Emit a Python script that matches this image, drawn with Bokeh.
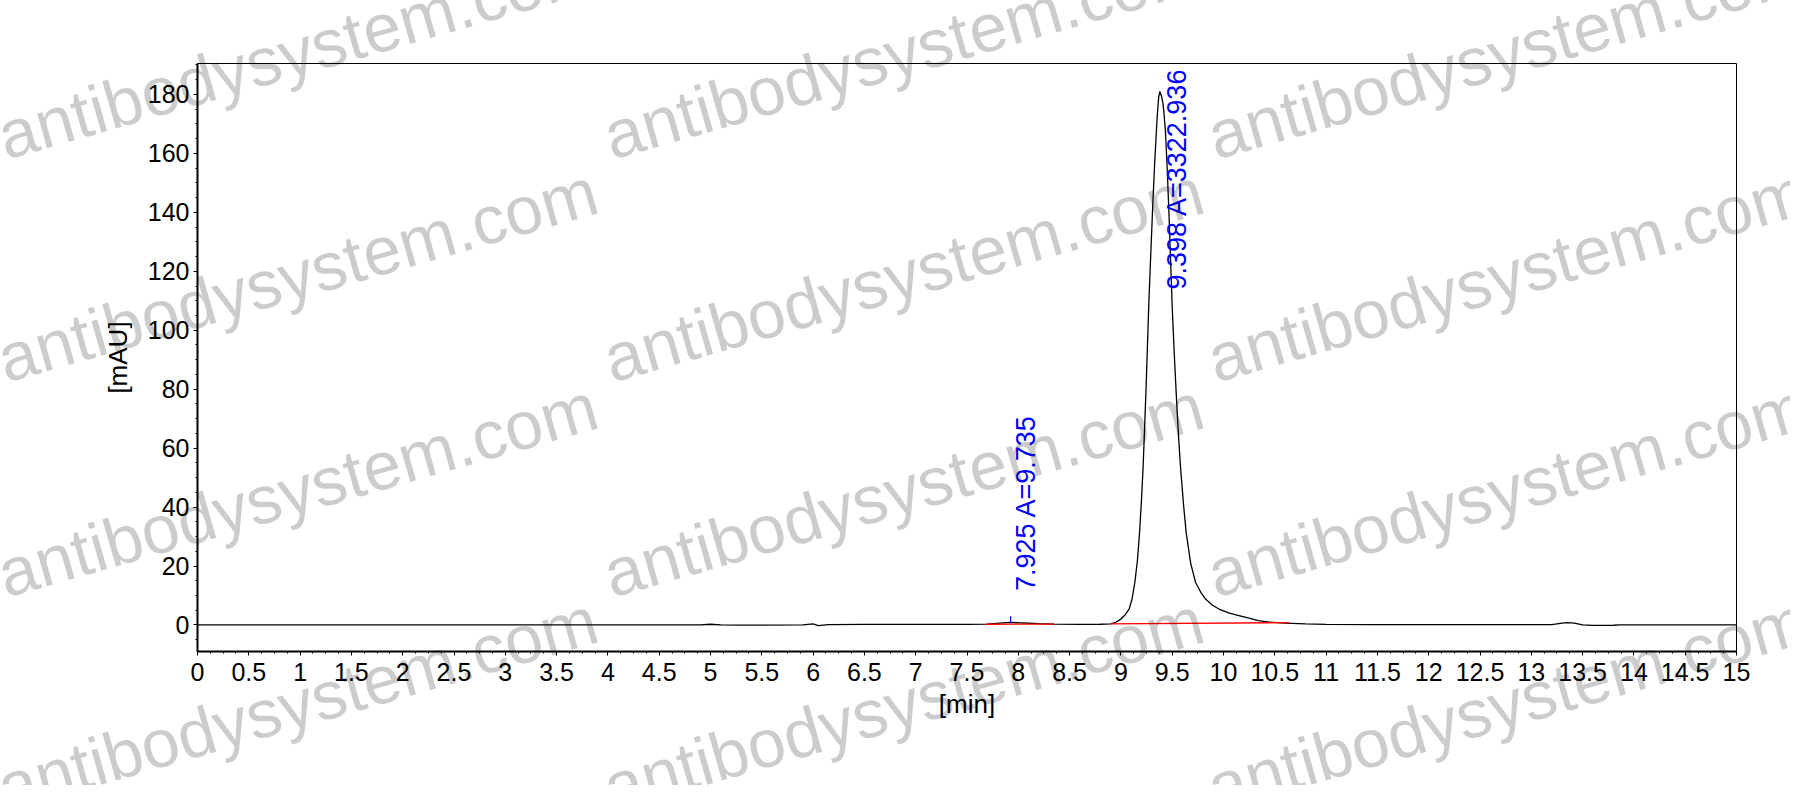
import math
from bokeh.plotting import figure
from bokeh.layouts import column
from bokeh.models import Range1d, FixedTicker, ColumnDataSource, Div
from bokeh.embed import file_html
from bokeh.resources import INLINE
from bokeh.core.properties import value

# ---------------- data ----------------
rt_min = [0.0, 4.9, 5.0, 5.1, 5.3, 5.9, 6.0, 6.05, 6.15, 6.5, 7.5, 7.7, 7.85, 7.925, 8.0,
          8.2, 8.35, 8.6, 8.8, 8.9, 8.95, 9.0, 9.04, 9.08, 9.11, 9.136, 9.16, 9.182, 9.2,
          9.217, 9.245, 9.273, 9.289, 9.31, 9.331, 9.353, 9.368, 9.38, 9.395, 9.41, 9.419,
          9.435, 9.451, 9.468, 9.484, 9.5, 9.52, 9.54, 9.56, 9.58, 9.61, 9.636, 9.68, 9.727,
          9.78, 9.825, 9.89, 9.955, 10.05, 10.15, 10.25, 10.34, 10.45, 10.6, 10.8, 11.0,
          11.5, 13.2, 13.3, 13.35, 13.42, 13.5, 13.6, 13.8, 13.85, 15.0]
signal_mau = [0.0, 0.0, 0.25, 0.05, -0.05, 0.0, 0.4, -0.2, 0.1, 0.2, 0.2, 0.3, 0.7, 0.9, 0.75,
              0.45, 0.3, 0.2, 0.25, 0.4, 0.9, 2.0, 3.4, 5.4, 9.0, 14.5, 21.5, 31.4, 42,
              54, 80, 110, 124, 142, 158, 172, 179, 181, 179.5, 177, 174,
              167, 155, 140, 124, 108, 92, 78, 65, 54, 41, 31.4, 21, 14.5,
              11, 8.8, 6.8, 5.4, 4.1, 3.2, 2.3, 1.5, 1.0, 0.6, 0.35, 0.2,
              0.1, 0.1, 0.6, 0.8, 0.6, 0.0, -0.15, -0.1, 0.05, 0.05]

# integration baselines (red)
base_x0 = [7.68, 8.90]
base_y0 = [0.25, 0.35]
base_x1 = [8.35, 10.64]
base_y1 = [0.30, 0.80]

# peak labels
peak_rt = [7.925, 9.398]
peak_label_y = [11.5, 113.8]
peak_text = ["7.925 A=9.735", "9.398 A=3322.936"]
peak_mark_x = [7.925]
peak_mark_y0 = [0.9]
peak_mark_y1 = [3.0]

x_tick_values = [i * 0.5 for i in range(31)]
x_tick_labels = ["0", "0.5", "1", "1.5", "2", "2.5", "3", "3.5", "4", "4.5", "5", "5.5",
                 "6", "6.5", "7", "7.5", "8", "8.5", "9", "9.5", "10", "10.5", "11", "11.5",
                 "12", "12.5", "13", "13.5", "14", "14.5", "15"]
y_tick_values = [0, 20, 40, 60, 80, 100, 120, 140, 160, 180]
y_tick_labels = ["0", "20", "40", "60", "80", "100", "120", "140", "160", "180"]

watermark_text = "antibodysystem.com"

# ---------------- layout ----------------
W, H = 1790, 785
FW, FH = 1539, 588
FL, FT = 197, 63
FR, FB = W - FL - FW, H - FT - FH
X0, X1 = 0.0, 15.0
Y0, Y1 = -9.0, 190.5
FONT = "Liberation Sans"

p = figure(width=W, height=H, output_backend="svg", toolbar_location=None,
           x_range=Range1d(X0, X1), y_range=Range1d(Y0, Y1),
           min_border_left=FL, min_border_right=FR, min_border_top=FT, min_border_bottom=FB,
           background_fill_color="white", border_fill_color="white")
p.grid.visible = False
p.outline_line_color = "black"
p.outline_line_width = 1
p.outline_line_alpha = 1.0

# chromatogram
p.line(rt_min, signal_mau, line_color="black", line_width=1.3)
p.segment(x0=base_x0, y0=base_y0, x1=base_x1, y1=base_y1, line_color="#ff0000", line_width=1.3)
p.segment(x0=peak_mark_x, y0=peak_mark_y0, x1=peak_mark_x, y1=peak_mark_y1,
          line_color="#0000ff", line_width=1.2)

src = ColumnDataSource(dict(x=peak_rt, y=peak_label_y, t=peak_text))
p.text(x="x", y="y", text="t", source=src, angle=math.pi / 2,
       text_align="left", text_baseline="top", text_color="#0000ff",
       text_font=value(FONT), text_font_size="27px")

# axes
for ax in (p.xaxis[0], p.yaxis[0]):
    ax.axis_line_width = 2
    ax.axis_line_color = "black"
    ax.major_tick_in = 0
    ax.major_tick_out = 4
    ax.minor_tick_in = 0
    ax.minor_tick_out = 2
    ax.major_tick_line_color = "black"
    ax.minor_tick_line_color = "black"
    ax.major_label_text_font = FONT
    ax.major_label_text_font_size = "25px"
    ax.major_label_text_color = "black"
    ax.major_label_standoff = 4
    ax.axis_label_text_font = FONT
    ax.axis_label_text_font_size = "26px"
    ax.axis_label_text_font_style = "normal"
    ax.axis_label_text_color = "black"

p.xaxis.ticker = FixedTicker(ticks=x_tick_values,
                             minor_ticks=[i * 0.125 for i in range(121)])
p.xaxis.major_label_overrides = {v: s for v, s in zip(x_tick_values, x_tick_labels)}
p.xaxis.major_label_standoff = 7
p.xaxis.axis_label = "[min]"
p.xaxis.axis_label_standoff = 5

p.yaxis.ticker = FixedTicker(ticks=y_tick_values,
                             minor_ticks=[-5 + 5 * i for i in range(40)])
p.yaxis.major_label_overrides = {v: s for v, s in zip(y_tick_values, y_tick_labels)}
p.yaxis.axis_label = "[mAU]"
p.yaxis.axis_label_standoff = 12

# ---------------- watermark overlay (HTML text laid over the chart) ----------------
WM_SIZE = 68
WM_BASE = round(0.8465 * WM_SIZE, 1)   # baseline offset from the span's top (line-height 1)
wm_cols = [6, 612, 1216]
wm_rows = [160, 383, 598, 812]
spans = []
for sy in wm_rows:
    for sx in wm_cols:
        spans.append(
            f'<span style="position:absolute;left:{sx}px;top:{sy - WM_BASE}px;'
            f"font-family:'{FONT}';font-size:{WM_SIZE}px;line-height:1;white-space:nowrap;"
            f'color:rgba(0,0,0,0.2);transform:rotate(-16deg);'
            f'transform-origin:0px {WM_BASE}px;">{watermark_text}</span>')
wm_html = (f'<div style="position:relative;width:{W}px;height:{H}px;overflow:hidden;'
           f'pointer-events:none;">' + "".join(spans) + "</div>")
wm = Div(text=wm_html, width=W, height=H, margin=(-H, 0, 0, 0),
         styles={"position": "relative", "z-index": "10", "pointer-events": "none"})

layout = column(p, wm, spacing=0)
open("out.html", "w").write(file_html(layout, INLINE))
